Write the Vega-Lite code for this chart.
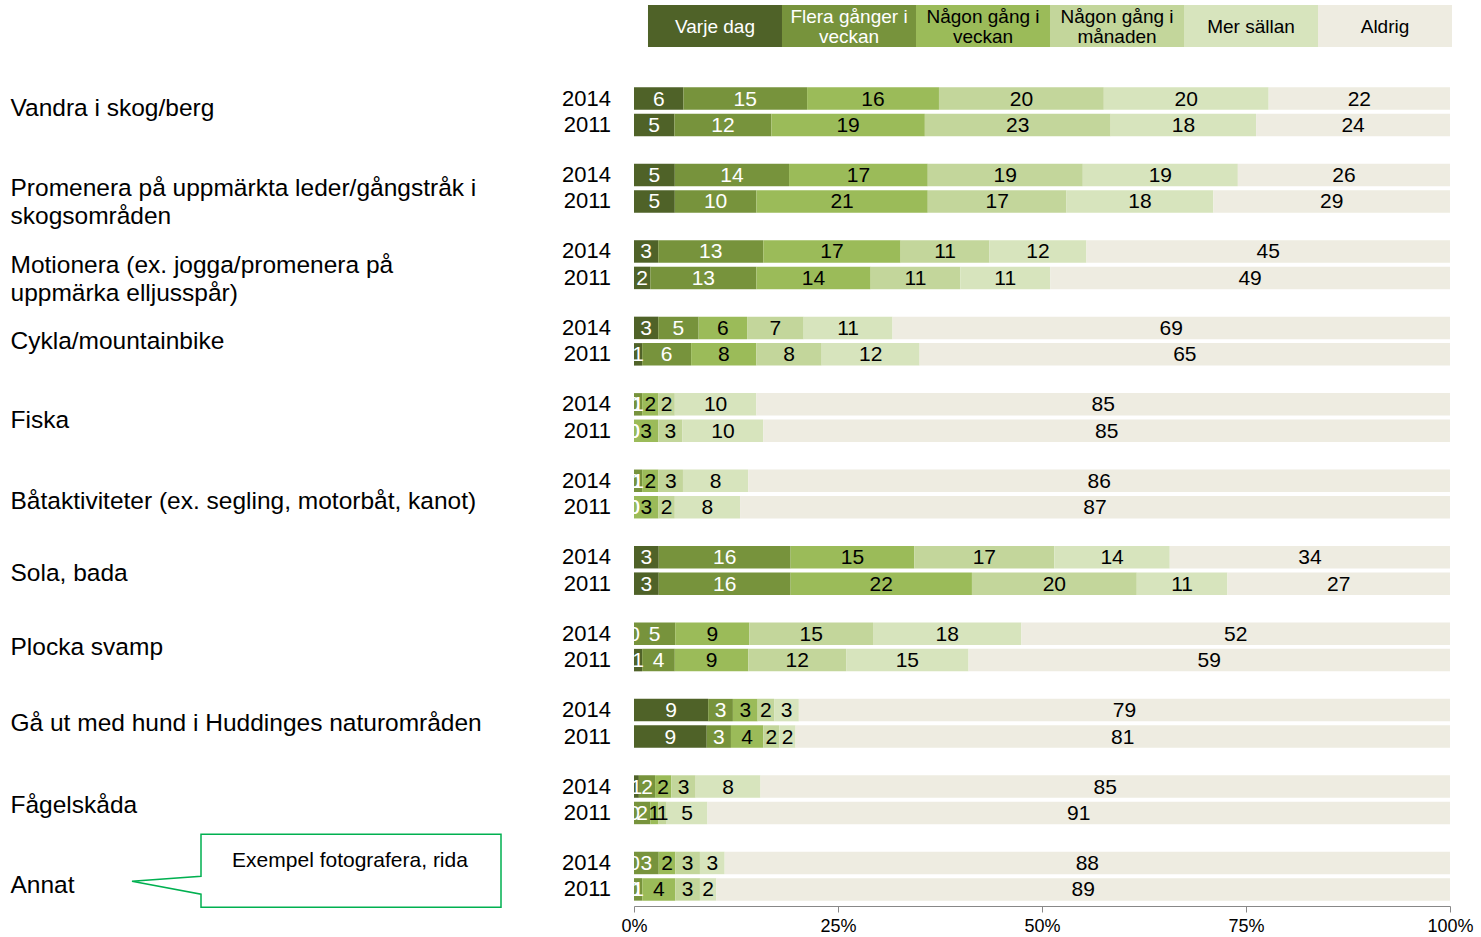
{
  "$schema": "https://vega.github.io/schema/vega-lite/v6.json",
  "background": "white",
  "padding": {"left": 10, "top": 5, "right": 0, "bottom": 0},
  "spacing": 35,
  "columns": 1,
  "config": {"view": {"stroke": null}, "font": "Liberation Sans"},
  "concat": [
    {
      "width": 818,
      "height": 42,
      "data": {"values": [
        {"f": "Varje dag", "lab": "Varje dag", "row": "L"},
        {"f": "Flera gånger i veckan", "lab": "Flera gånger i\nveckan", "row": "L"},
        {"f": "Någon gång i veckan", "lab": "Någon gång i\nveckan", "row": "L"},
        {"f": "Någon gång i månaden", "lab": "Någon gång i\nmånaden", "row": "L"},
        {"f": "Mer sällan", "lab": "Mer sällan", "row": "L"},
        {"f": "Aldrig", "lab": "Aldrig", "row": "L"}
      ]},
      "encoding": {
        "x": {"field": "f", "type": "nominal", "sort": ["Varje dag", "Flera gånger i veckan", "Någon gång i veckan", "Någon gång i månaden", "Mer sällan", "Aldrig"], "axis": null, "scale": {"paddingInner": 0, "paddingOuter": 0.0522, "align": 1}},
        "y": {"field": "row", "type": "nominal", "title": null, "scale": {"paddingInner": 0, "paddingOuter": 0}, "axis": {"labels": false, "ticks": false, "tickSize": 0, "domain": false, "grid": false, "minExtent": 624, "maxExtent": 624}}
      },
      "layer": [
        {"mark": "rect", "encoding": {"color": {"field": "f", "type": "nominal", "legend": null, "scale": {"domain": ["Varje dag", "Flera gånger i veckan", "Någon gång i veckan", "Någon gång i månaden", "Mer sällan", "Aldrig"], "range": ["#4F6228", "#77933C", "#9BBB59", "#C3D69B", "#D7E4BD", "#EEECE1"]}}}},
        {"transform": [{"filter": "datum.f == 'Varje dag' || datum.f == 'Mer sällan' || datum.f == 'Aldrig'"}],
         "mark": {"type": "text", "fontSize": 19, "baseline": "middle", "dy": 1},
         "encoding": {"text": {"field": "lab"}, "color": {"condition": {"test": "datum.f == 'Varje dag' || datum.f == 'Flera gånger i veckan'", "value": "white"}, "value": "black"}}},
        {"transform": [{"filter": "datum.f != 'Varje dag' && datum.f != 'Mer sällan' && datum.f != 'Aldrig'"}],
         "mark": {"type": "text", "lineBreak": "\n", "fontSize": 19, "lineHeight": 20, "baseline": "middle", "dy": -9},
         "encoding": {"text": {"field": "lab"}, "color": {"condition": {"test": "datum.f == 'Varje dag' || datum.f == 'Flera gånger i veckan'", "value": "white"}, "value": "black"}}}
      ]
    },
    {
      "width": 816,
      "height": 824,
      "data": {"values": [
        {"a": "Vandra i skog/berg", "y": "2014", "f": "Varje dag", "v": 6},
        {"a": "Vandra i skog/berg", "y": "2014", "f": "Flera gånger i veckan", "v": 15},
        {"a": "Vandra i skog/berg", "y": "2014", "f": "Någon gång i veckan", "v": 16},
        {"a": "Vandra i skog/berg", "y": "2014", "f": "Någon gång i månaden", "v": 20},
        {"a": "Vandra i skog/berg", "y": "2014", "f": "Mer sällan", "v": 20},
        {"a": "Vandra i skog/berg", "y": "2014", "f": "Aldrig", "v": 22},
        {"a": "Vandra i skog/berg", "y": "2011", "f": "Varje dag", "v": 5},
        {"a": "Vandra i skog/berg", "y": "2011", "f": "Flera gånger i veckan", "v": 12},
        {"a": "Vandra i skog/berg", "y": "2011", "f": "Någon gång i veckan", "v": 19},
        {"a": "Vandra i skog/berg", "y": "2011", "f": "Någon gång i månaden", "v": 23},
        {"a": "Vandra i skog/berg", "y": "2011", "f": "Mer sällan", "v": 18},
        {"a": "Vandra i skog/berg", "y": "2011", "f": "Aldrig", "v": 24},
        {"a": "Promenera på uppmärkta leder/gångstråk i skogsområden", "y": "2014", "f": "Varje dag", "v": 5},
        {"a": "Promenera på uppmärkta leder/gångstråk i skogsområden", "y": "2014", "f": "Flera gånger i veckan", "v": 14},
        {"a": "Promenera på uppmärkta leder/gångstråk i skogsområden", "y": "2014", "f": "Någon gång i veckan", "v": 17},
        {"a": "Promenera på uppmärkta leder/gångstråk i skogsområden", "y": "2014", "f": "Någon gång i månaden", "v": 19},
        {"a": "Promenera på uppmärkta leder/gångstråk i skogsområden", "y": "2014", "f": "Mer sällan", "v": 19},
        {"a": "Promenera på uppmärkta leder/gångstråk i skogsområden", "y": "2014", "f": "Aldrig", "v": 26},
        {"a": "Promenera på uppmärkta leder/gångstråk i skogsområden", "y": "2011", "f": "Varje dag", "v": 5},
        {"a": "Promenera på uppmärkta leder/gångstråk i skogsområden", "y": "2011", "f": "Flera gånger i veckan", "v": 10},
        {"a": "Promenera på uppmärkta leder/gångstråk i skogsområden", "y": "2011", "f": "Någon gång i veckan", "v": 21},
        {"a": "Promenera på uppmärkta leder/gångstråk i skogsområden", "y": "2011", "f": "Någon gång i månaden", "v": 17},
        {"a": "Promenera på uppmärkta leder/gångstråk i skogsområden", "y": "2011", "f": "Mer sällan", "v": 18},
        {"a": "Promenera på uppmärkta leder/gångstråk i skogsområden", "y": "2011", "f": "Aldrig", "v": 29},
        {"a": "Motionera (ex. jogga/promenera på uppmärka elljusspår)", "y": "2014", "f": "Varje dag", "v": 3},
        {"a": "Motionera (ex. jogga/promenera på uppmärka elljusspår)", "y": "2014", "f": "Flera gånger i veckan", "v": 13},
        {"a": "Motionera (ex. jogga/promenera på uppmärka elljusspår)", "y": "2014", "f": "Någon gång i veckan", "v": 17},
        {"a": "Motionera (ex. jogga/promenera på uppmärka elljusspår)", "y": "2014", "f": "Någon gång i månaden", "v": 11},
        {"a": "Motionera (ex. jogga/promenera på uppmärka elljusspår)", "y": "2014", "f": "Mer sällan", "v": 12},
        {"a": "Motionera (ex. jogga/promenera på uppmärka elljusspår)", "y": "2014", "f": "Aldrig", "v": 45},
        {"a": "Motionera (ex. jogga/promenera på uppmärka elljusspår)", "y": "2011", "f": "Varje dag", "v": 2},
        {"a": "Motionera (ex. jogga/promenera på uppmärka elljusspår)", "y": "2011", "f": "Flera gånger i veckan", "v": 13},
        {"a": "Motionera (ex. jogga/promenera på uppmärka elljusspår)", "y": "2011", "f": "Någon gång i veckan", "v": 14},
        {"a": "Motionera (ex. jogga/promenera på uppmärka elljusspår)", "y": "2011", "f": "Någon gång i månaden", "v": 11},
        {"a": "Motionera (ex. jogga/promenera på uppmärka elljusspår)", "y": "2011", "f": "Mer sällan", "v": 11},
        {"a": "Motionera (ex. jogga/promenera på uppmärka elljusspår)", "y": "2011", "f": "Aldrig", "v": 49},
        {"a": "Cykla/mountainbike", "y": "2014", "f": "Varje dag", "v": 3},
        {"a": "Cykla/mountainbike", "y": "2014", "f": "Flera gånger i veckan", "v": 5},
        {"a": "Cykla/mountainbike", "y": "2014", "f": "Någon gång i veckan", "v": 6},
        {"a": "Cykla/mountainbike", "y": "2014", "f": "Någon gång i månaden", "v": 7},
        {"a": "Cykla/mountainbike", "y": "2014", "f": "Mer sällan", "v": 11},
        {"a": "Cykla/mountainbike", "y": "2014", "f": "Aldrig", "v": 69},
        {"a": "Cykla/mountainbike", "y": "2011", "f": "Varje dag", "v": 1},
        {"a": "Cykla/mountainbike", "y": "2011", "f": "Flera gånger i veckan", "v": 6},
        {"a": "Cykla/mountainbike", "y": "2011", "f": "Någon gång i veckan", "v": 8},
        {"a": "Cykla/mountainbike", "y": "2011", "f": "Någon gång i månaden", "v": 8},
        {"a": "Cykla/mountainbike", "y": "2011", "f": "Mer sällan", "v": 12},
        {"a": "Cykla/mountainbike", "y": "2011", "f": "Aldrig", "v": 65},
        {"a": "Fiska", "y": "2014", "f": "Varje dag", "v": 0},
        {"a": "Fiska", "y": "2014", "f": "Flera gånger i veckan", "v": 1},
        {"a": "Fiska", "y": "2014", "f": "Någon gång i veckan", "v": 2},
        {"a": "Fiska", "y": "2014", "f": "Någon gång i månaden", "v": 2},
        {"a": "Fiska", "y": "2014", "f": "Mer sällan", "v": 10},
        {"a": "Fiska", "y": "2014", "f": "Aldrig", "v": 85},
        {"a": "Fiska", "y": "2011", "f": "Varje dag", "v": 0},
        {"a": "Fiska", "y": "2011", "f": "Flera gånger i veckan", "v": 0},
        {"a": "Fiska", "y": "2011", "f": "Någon gång i veckan", "v": 3},
        {"a": "Fiska", "y": "2011", "f": "Någon gång i månaden", "v": 3},
        {"a": "Fiska", "y": "2011", "f": "Mer sällan", "v": 10},
        {"a": "Fiska", "y": "2011", "f": "Aldrig", "v": 85},
        {"a": "Båtaktiviteter (ex. segling, motorbåt, kanot)", "y": "2014", "f": "Varje dag", "v": 0},
        {"a": "Båtaktiviteter (ex. segling, motorbåt, kanot)", "y": "2014", "f": "Flera gånger i veckan", "v": 1},
        {"a": "Båtaktiviteter (ex. segling, motorbåt, kanot)", "y": "2014", "f": "Någon gång i veckan", "v": 2},
        {"a": "Båtaktiviteter (ex. segling, motorbåt, kanot)", "y": "2014", "f": "Någon gång i månaden", "v": 3},
        {"a": "Båtaktiviteter (ex. segling, motorbåt, kanot)", "y": "2014", "f": "Mer sällan", "v": 8},
        {"a": "Båtaktiviteter (ex. segling, motorbåt, kanot)", "y": "2014", "f": "Aldrig", "v": 86},
        {"a": "Båtaktiviteter (ex. segling, motorbåt, kanot)", "y": "2011", "f": "Varje dag", "v": 0},
        {"a": "Båtaktiviteter (ex. segling, motorbåt, kanot)", "y": "2011", "f": "Flera gånger i veckan", "v": 0},
        {"a": "Båtaktiviteter (ex. segling, motorbåt, kanot)", "y": "2011", "f": "Någon gång i veckan", "v": 3},
        {"a": "Båtaktiviteter (ex. segling, motorbåt, kanot)", "y": "2011", "f": "Någon gång i månaden", "v": 2},
        {"a": "Båtaktiviteter (ex. segling, motorbåt, kanot)", "y": "2011", "f": "Mer sällan", "v": 8},
        {"a": "Båtaktiviteter (ex. segling, motorbåt, kanot)", "y": "2011", "f": "Aldrig", "v": 87},
        {"a": "Sola, bada", "y": "2014", "f": "Varje dag", "v": 3},
        {"a": "Sola, bada", "y": "2014", "f": "Flera gånger i veckan", "v": 16},
        {"a": "Sola, bada", "y": "2014", "f": "Någon gång i veckan", "v": 15},
        {"a": "Sola, bada", "y": "2014", "f": "Någon gång i månaden", "v": 17},
        {"a": "Sola, bada", "y": "2014", "f": "Mer sällan", "v": 14},
        {"a": "Sola, bada", "y": "2014", "f": "Aldrig", "v": 34},
        {"a": "Sola, bada", "y": "2011", "f": "Varje dag", "v": 3},
        {"a": "Sola, bada", "y": "2011", "f": "Flera gånger i veckan", "v": 16},
        {"a": "Sola, bada", "y": "2011", "f": "Någon gång i veckan", "v": 22},
        {"a": "Sola, bada", "y": "2011", "f": "Någon gång i månaden", "v": 20},
        {"a": "Sola, bada", "y": "2011", "f": "Mer sällan", "v": 11},
        {"a": "Sola, bada", "y": "2011", "f": "Aldrig", "v": 27},
        {"a": "Plocka svamp", "y": "2014", "f": "Varje dag", "v": 0},
        {"a": "Plocka svamp", "y": "2014", "f": "Flera gånger i veckan", "v": 5},
        {"a": "Plocka svamp", "y": "2014", "f": "Någon gång i veckan", "v": 9},
        {"a": "Plocka svamp", "y": "2014", "f": "Någon gång i månaden", "v": 15},
        {"a": "Plocka svamp", "y": "2014", "f": "Mer sällan", "v": 18},
        {"a": "Plocka svamp", "y": "2014", "f": "Aldrig", "v": 52},
        {"a": "Plocka svamp", "y": "2011", "f": "Varje dag", "v": 1},
        {"a": "Plocka svamp", "y": "2011", "f": "Flera gånger i veckan", "v": 4},
        {"a": "Plocka svamp", "y": "2011", "f": "Någon gång i veckan", "v": 9},
        {"a": "Plocka svamp", "y": "2011", "f": "Någon gång i månaden", "v": 12},
        {"a": "Plocka svamp", "y": "2011", "f": "Mer sällan", "v": 15},
        {"a": "Plocka svamp", "y": "2011", "f": "Aldrig", "v": 59},
        {"a": "Gå ut med hund i Huddinges naturområden", "y": "2014", "f": "Varje dag", "v": 9},
        {"a": "Gå ut med hund i Huddinges naturområden", "y": "2014", "f": "Flera gånger i veckan", "v": 3},
        {"a": "Gå ut med hund i Huddinges naturområden", "y": "2014", "f": "Någon gång i veckan", "v": 3},
        {"a": "Gå ut med hund i Huddinges naturområden", "y": "2014", "f": "Någon gång i månaden", "v": 2},
        {"a": "Gå ut med hund i Huddinges naturområden", "y": "2014", "f": "Mer sällan", "v": 3},
        {"a": "Gå ut med hund i Huddinges naturområden", "y": "2014", "f": "Aldrig", "v": 79},
        {"a": "Gå ut med hund i Huddinges naturområden", "y": "2011", "f": "Varje dag", "v": 9},
        {"a": "Gå ut med hund i Huddinges naturområden", "y": "2011", "f": "Flera gånger i veckan", "v": 3},
        {"a": "Gå ut med hund i Huddinges naturområden", "y": "2011", "f": "Någon gång i veckan", "v": 4},
        {"a": "Gå ut med hund i Huddinges naturområden", "y": "2011", "f": "Någon gång i månaden", "v": 2},
        {"a": "Gå ut med hund i Huddinges naturområden", "y": "2011", "f": "Mer sällan", "v": 2},
        {"a": "Gå ut med hund i Huddinges naturområden", "y": "2011", "f": "Aldrig", "v": 81},
        {"a": "Fågelskåda", "y": "2014", "f": "Varje dag", "v": 0.6},
        {"a": "Fågelskåda", "y": "2014", "f": "Flera gånger i veckan", "v": 2},
        {"a": "Fågelskåda", "y": "2014", "f": "Någon gång i veckan", "v": 2},
        {"a": "Fågelskåda", "y": "2014", "f": "Någon gång i månaden", "v": 3},
        {"a": "Fågelskåda", "y": "2014", "f": "Mer sällan", "v": 8},
        {"a": "Fågelskåda", "y": "2014", "f": "Aldrig", "v": 85},
        {"a": "Fågelskåda", "y": "2011", "f": "Varje dag", "v": 0},
        {"a": "Fågelskåda", "y": "2011", "f": "Flera gånger i veckan", "v": 2},
        {"a": "Fågelskåda", "y": "2011", "f": "Någon gång i veckan", "v": 1},
        {"a": "Fågelskåda", "y": "2011", "f": "Någon gång i månaden", "v": 1},
        {"a": "Fågelskåda", "y": "2011", "f": "Mer sällan", "v": 5},
        {"a": "Fågelskåda", "y": "2011", "f": "Aldrig", "v": 91},
        {"a": "Annat", "y": "2014", "f": "Varje dag", "v": 0},
        {"a": "Annat", "y": "2014", "f": "Flera gånger i veckan", "v": 3},
        {"a": "Annat", "y": "2014", "f": "Någon gång i veckan", "v": 2},
        {"a": "Annat", "y": "2014", "f": "Någon gång i månaden", "v": 3},
        {"a": "Annat", "y": "2014", "f": "Mer sällan", "v": 3},
        {"a": "Annat", "y": "2014", "f": "Aldrig", "v": 88},
        {"a": "Annat", "y": "2011", "f": "Varje dag", "v": 0},
        {"a": "Annat", "y": "2011", "f": "Flera gånger i veckan", "v": 1},
        {"a": "Annat", "y": "2011", "f": "Någon gång i veckan", "v": 4},
        {"a": "Annat", "y": "2011", "f": "Någon gång i månaden", "v": 3},
        {"a": "Annat", "y": "2011", "f": "Mer sällan", "v": 2},
        {"a": "Annat", "y": "2011", "f": "Aldrig", "v": 89}
      ]},
      "transform": [
        {"calculate": "indexof(['Varje dag','Flera gånger i veckan','Någon gång i veckan','Någon gång i månaden','Mer sällan','Aldrig'], datum.f)", "as": "o"},
        {"stack": "v", "groupby": ["a", "y"], "sort": [{"field": "o", "order": "ascending"}], "offset": "normalize", "as": ["v0", "v1"]},
        {"calculate": "(datum.v0 + datum.v1) / 2", "as": "mid"}
      ],
      "encoding": {
        "y": {
          "field": "a", "type": "nominal", "title": null,
          "sort": ["Vandra i skog/berg", "Promenera på uppmärkta leder/gångstråk i skogsområden", "Motionera (ex. jogga/promenera på uppmärka elljusspår)", "Cykla/mountainbike", "Fiska", "Båtaktiviteter (ex. segling, motorbåt, kanot)", "Sola, bada", "Plocka svamp", "Gå ut med hund i Huddinges naturområden", "Fågelskåda", "Annat"],
          "scale": {"paddingInner": 0.36, "paddingOuter": 0.07},
          "axis": {
            "labelAlign": "left", "labelPadding": 624, "ticks": false, "tickSize": 0, "domain": false, "grid": false,
            "labelLimit": 1000, "labelFontSize": 24.5, "labelColor": "black", "labelBaseline": "middle", "labelLineHeight": 28,
            "minExtent": 624, "maxExtent": 800,
            "labelOffset": {"condition": [
              {"test": "datum.value == 'Annat'", "value": 10},
              {"test": "datum.value == 'Båtaktiviteter (ex. segling, motorbåt, kanot)'", "value": 8},
              {"test": "datum.value == 'Fågelskåda'", "value": 6},
              {"test": "datum.value == 'Fiska'", "value": 3},
              {"test": "datum.value == 'Sola, bada'", "value": 4},
              {"test": "datum.value == 'Vandra i skog/berg'", "value": -3}
            ], "value": 1},
            "labelExpr": "datum.value == 'Promenera på uppmärkta leder/gångstråk i skogsområden' ? ['Promenera på uppmärkta leder/gångstråk i', 'skogsområden'] : datum.value == 'Motionera (ex. jogga/promenera på uppmärka elljusspår)' ? ['Motionera (ex. jogga/promenera på', 'uppmärka elljusspår)'] : datum.label"
          }
        }
      },
      "layer": [
        {
          "mark": "bar",
          "encoding": {
            "x": {"field": "v0", "type": "quantitative", "title": null, "scale": {"domain": [0, 1], "nice": false},
                  "axis": {"values": [0, 0.25, 0.5, 0.75, 1], "format": ".0%", "labelFlush": false, "grid": false, "domainColor": "#888888", "tickColor": "#888888", "tickSize": 6, "labelFontSize": 18, "labelColor": "black", "labelPadding": 5, "title": null}},
            "x2": {"field": "v1"},
            "yOffset": {"field": "y", "type": "nominal", "sort": ["2014", "2011"], "scale": {"paddingInner": 0.15, "paddingOuter": 0}},
            "color": {"field": "f", "type": "nominal", "legend": null, "scale": {"domain": ["Varje dag", "Flera gånger i veckan", "Någon gång i veckan", "Någon gång i månaden", "Mer sällan", "Aldrig"], "range": ["#4F6228", "#77933C", "#9BBB59", "#C3D69B", "#D7E4BD", "#EEECE1"]}}
          }
        },
        {
          "mark": {"type": "text", "clip": true, "fontSize": 21, "baseline": "middle", "dy": 1},
          "encoding": {
            "x": {"field": "mid", "type": "quantitative", "title": null},
            "yOffset": {"field": "y", "type": "nominal", "sort": ["2014", "2011"]},
            "text": {"field": "v", "type": "quantitative", "format": ".0f"},
            "color": {"condition": {"test": "datum.f == 'Varje dag' || datum.f == 'Flera gånger i veckan'", "value": "white"}, "value": "black"}
          }
        },
        {
          "transform": [{"filter": "datum.f == 'Aldrig'"}],
          "mark": {"type": "text", "align": "right", "dx": -23, "fontSize": 22, "baseline": "middle", "color": "black"},
          "encoding": {
            "x": {"datum": 0},
            "yOffset": {"field": "y", "type": "nominal", "sort": ["2014", "2011"]},
            "text": {"field": "y"}
          }
        },
        {
          "transform": [{"filter": "datum.f == 'Aldrig' && datum.y == '2014' && datum.a == 'Annat'"}],
          "mark": {"type": "point", "shape": "M -433 -42 L -133 -42 L -133 31 L -433 31 L -433 18 L -502 5 L -433 0 Z", "size": 4, "filled": false, "color": "#00B050", "strokeWidth": 1.5, "opacity": 1},
          "encoding": {"x": {"datum": 0}}
        },
        {
          "transform": [{"filter": "datum.f == 'Aldrig' && datum.y == '2014' && datum.a == 'Annat'"}],
          "mark": {"type": "text", "text": "Exempel fotografera, rida", "dx": -284, "dy": -15, "fontSize": 21, "align": "center", "baseline": "middle", "color": "black"},
          "encoding": {"x": {"datum": 0}}
        }
      ]
    }
  ]
}
